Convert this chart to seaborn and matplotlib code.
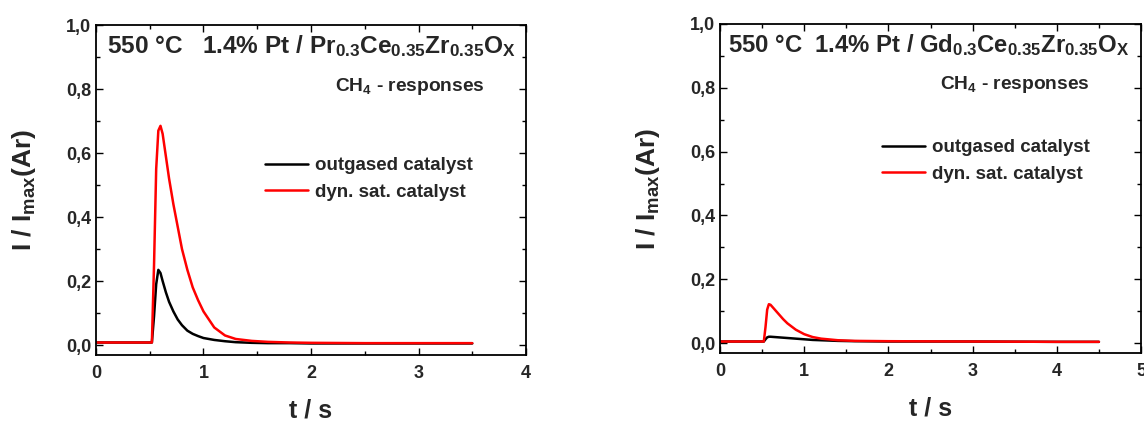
import matplotlib
matplotlib.use("Agg")
import matplotlib.pyplot as plt
from matplotlib.ticker import MultipleLocator, FuncFormatter
import seaborn as sns
import pandas as pd

# left panel: Pr0.3Ce0.35Zr0.35Ox, CH4 responses
t_pr = [0, 0.52, 0.54, 0.56, 0.58, 0.60, 0.62, 0.65, 0.68, 0.72, 0.76, 0.80, 0.85,
        0.90, 0.95, 1.00, 1.10, 1.20, 1.30, 1.45, 1.60, 1.80, 2.0, 2.5, 3.0, 3.5]
outgased_pr = [0.008, 0.008, 0.09, 0.19, 0.235, 0.225, 0.20, 0.165, 0.135, 0.105, 0.08,
               0.062, 0.045, 0.035, 0.028, 0.022, 0.016, 0.012, 0.009, 0.007, 0.006,
               0.006, 0.005, 0.005, 0.005, 0.005]
dynsat_pr = [0.008, 0.008, 0.25, 0.55, 0.67, 0.685, 0.66, 0.59, 0.52, 0.44, 0.37, 0.30,
             0.235, 0.18, 0.14, 0.105, 0.055, 0.030, 0.019, 0.013, 0.010, 0.008, 0.007,
             0.006, 0.006, 0.006]

# right panel: Gd0.3Ce0.35Zr0.35Ox, CH4 responses
t_gd = [0, 0.52, 0.54, 0.56, 0.58, 0.60, 0.65, 0.70, 0.75, 0.80, 0.90, 1.0, 1.1, 1.2,
        1.4, 1.6, 2.0, 3.0, 4.0, 4.5]
outgased_gd = [0.005, 0.005, 0.012, 0.018, 0.020, 0.020, 0.019, 0.018, 0.017, 0.016,
               0.014, 0.012, 0.010, 0.009, 0.007, 0.006, 0.005, 0.005, 0.004, 0.004]
dynsat_gd = [0.005, 0.005, 0.05, 0.105, 0.122, 0.12, 0.105, 0.09, 0.075, 0.062, 0.042,
             0.028, 0.019, 0.014, 0.009, 0.007, 0.006, 0.005, 0.004, 0.004]

series_names = ["outgased catalyst", "dyn. sat. catalyst"]
colors = ["black", "#ff0000"]

sns.set_style("ticks")
plt.rcParams['font.family'] = ['Liberation Sans', 'DejaVu Sans']
plt.rcParams['font.weight'] = 'bold'
plt.rcParams['mathtext.fontset'] = 'custom'
plt.rcParams['mathtext.rm'] = 'Liberation Sans:bold'
plt.rcParams['mathtext.it'] = 'Liberation Sans:bold'
plt.rcParams['mathtext.bf'] = 'Liberation Sans:bold'
plt.rcParams['mathtext.default'] = 'rm'


def make_df(t, a, b):
    return pd.concat([
        pd.DataFrame({"t": t, "I": a, "series": series_names[0]}),
        pd.DataFrame({"t": t, "I": b, "series": series_names[1]}),
    ])


fig = plt.figure(figsize=(11.44, 4.21), dpi=100)
ax1 = fig.add_axes([0.0839, 0.1568, 0.3759, 0.7838])
ax2 = fig.add_axes([0.6294, 0.1615, 0.3680, 0.7815])

# axes, data, xmax, heading, heading x, heading size, CH4 label right x, legend anchor
panels = [
    (ax1, make_df(t_pr, outgased_pr, dynsat_pr), 4,
     r"550 °C   1.4% Pt / Pr$_{0.3}$Ce$_{0.35}$Zr$_{0.35}$O$_{X}$", 0.026, 17.6, 0.903,
     (0.393, 0.60)),
    (ax2, make_df(t_gd, outgased_gd, dynsat_gd), 5,
     r"550 °C  1.4% Pt / Gd$_{0.3}$Ce$_{0.35}$Zr$_{0.35}$O$_{X}$", 0.019, 17.2, 0.878,
     (0.385, 0.65)),
]

for ax, df, xmax, title, tx, tsize, cx, leg_pos in panels:
    sns.lineplot(data=df, x="t", y="I", hue="series", palette=colors, ax=ax,
                 linewidth=1.8, sort=False)
    ax.set_xlim(0, xmax)
    ax.set_ylim(-0.031, 1.0)
    ax.xaxis.set_major_locator(MultipleLocator(1))
    ax.xaxis.set_minor_locator(MultipleLocator(0.5))
    ax.yaxis.set_major_locator(MultipleLocator(0.2))
    ax.yaxis.set_minor_locator(MultipleLocator(0.1))
    ax.yaxis.set_major_formatter(FuncFormatter(lambda v, p: f"{v:.1f}".replace('.', ',')))
    ax.xaxis.set_major_formatter(FuncFormatter(lambda v, p: f"{v:.0f}"))
    ax.tick_params(which='both', direction='in', top=True, right=True, labelsize=13,
                   width=1.0, color='black')
    ax.tick_params(axis='x', which='major', pad=7)
    ax.tick_params(which='major', length=5)
    ax.tick_params(which='minor', length=3)
    for s in ax.spines.values():
        s.set_linewidth(1.3)
        s.set_color('black')
    ax.set_xlabel("t / s", fontsize=18, fontweight='bold', labelpad=12)
    ax.set_ylabel(r"I / I$_{max}$(Ar)", fontsize=19, fontweight='bold', labelpad=20)
    ax.text(tx, 0.935, title, transform=ax.transAxes, fontsize=tsize,
            fontweight='bold', va='center', ha='left')
    ax.text(cx, 0.815, r"CH$_{4}$ - responses", transform=ax.transAxes, fontsize=13.8,
            fontweight='bold', va='center', ha='right')
    leg = ax.legend(loc='upper left', bbox_to_anchor=leg_pos, frameon=False,
                    fontsize=13.5, handlelength=2.3, handletextpad=0.35,
                    labelspacing=0.5, borderaxespad=0, borderpad=0)
    for line in leg.get_lines():
        line.set_linewidth(1.8)

fig.savefig("out.png", dpi=100)
